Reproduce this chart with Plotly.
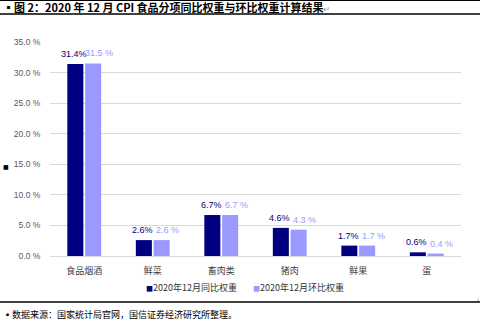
import plotly.graph_objects as go

categories = ["食品烟酒", "鲜菜", "畜肉类", "猪肉", "鲜果", "蛋"]
yoy_weight = [31.4, 2.6, 6.7, 4.6, 1.7, 0.6]
mom_weight = [31.5, 2.6, 6.7, 4.3, 1.7, 0.4]
series_names = ["2020年12月同比权重", "2020年12月环比权重"]
title_text = "▪图 2：2020 年 12 月 CPI 食品分项同比权重与环比权重计算结果"
source_text = "▪数据来源：国家统计局官网，国信证券经济研究所整理。"

W, H = 484, 327
L, R, T, B = 50, 23, 42, 71
pw, ph = W - L - R, H - T - B

def px(x):
    return (x - L) / pw

def py(y):
    return (H - B - y) / ph

font_cjk = "Noto Sans CJK SC, DejaVu Sans, sans-serif"
font_num = "Liberation Sans, Arial, sans-serif"
dark = "#000080"
light = "#9999FF"

fig = go.Figure()
fig.add_trace(go.Bar(
    x=categories, y=yoy_weight, name=series_names[0],
    marker=dict(color=dark, line=dict(width=0)), showlegend=False,
))
fig.add_trace(go.Bar(
    x=categories, y=mom_weight, name=series_names[1],
    marker=dict(color=light, line=dict(width=0)), showlegend=False,
))

annotations = []
for c, v in zip(categories, yoy_weight):
    annotations.append(dict(x=c, y=v, xref="x", yref="y", text=f"{v:.1f}%", showarrow=False,
                            xshift=-10, yshift=10, yanchor="middle", xanchor="center",
                            font=dict(size=9, family=font_num, color=dark)))
for c, v in zip(categories, mom_weight):
    annotations.append(dict(x=c, y=v, xref="x", yref="y", text=f"{v:.1f} %", showarrow=False,
                            xshift=15, yshift=10, yanchor="middle", xanchor="center",
                            font=dict(size=9, family=font_num, color=light)))

annotations += [
    dict(text="<b>" + title_text + "</b><span style='font-size:8px;color:#999'>↵</span>",
         xref="paper", yref="paper", x=px(1), y=py(7.5), xanchor="left", yanchor="middle",
         showarrow=False, font=dict(size=11, family=font_cjk, color="black")),
    dict(text=source_text, xref="paper", yref="paper", x=px(1), y=py(314),
         xanchor="left", yanchor="middle", showarrow=False,
         font=dict(size=9, family=font_cjk, color="black")),
    dict(text="■", xref="paper", yref="paper", x=px(6), y=py(166),
         xanchor="center", yanchor="middle", showarrow=False,
         font=dict(size=6, family="DejaVu Sans", color="black")),
    dict(text=f"<span style='color:{dark};font-size:7px'>■</span>" + series_names[0],
         xref="paper", yref="paper", x=px(144), y=py(287), xanchor="left", yanchor="middle",
         showarrow=False, font=dict(size=9, family=font_cjk, color="#333333")),
    dict(text=f"<span style='color:{light};font-size:7px'>■</span>" + series_names[1],
         xref="paper", yref="paper", x=px(251), y=py(287), xanchor="left", yanchor="middle",
         showarrow=False, font=dict(size=9, family=font_cjk, color="#333333")),
    dict(text="↓", xref="paper", yref="paper", x=px(478), y=py(299), xanchor="center", yanchor="middle",
         showarrow=False, font=dict(size=5, family="DejaVu Sans", color="#999999")),
]

fig.update_layout(
    width=W, height=H,
    margin=dict(l=L, r=R, t=T, b=B, pad=0),
    paper_bgcolor="white", plot_bgcolor="white",
    barmode="group", bargap=0.48, bargroupgap=0.1,
    showlegend=False,
    font=dict(family=font_cjk),
    xaxis=dict(showgrid=False, showline=False, ticks="outside", ticklen=6, tickcolor="rgba(0,0,0,0)",
               tickfont=dict(size=9, family=font_cjk, color="#404040")),
    yaxis=dict(range=[0, 35], dtick=5, tickformat=".1f", ticksuffix=" %",
               showgrid=True, gridcolor="#D9D9D9", gridwidth=1,
               zeroline=True, zerolinecolor="#D9D9D9", zerolinewidth=1,
               showline=False, ticks="outside", ticklen=7, tickcolor="rgba(0,0,0,0)",
               tickfont=dict(size=8.5, family=font_num, color="#595959")),
    shapes=[
        dict(type="line", xref="paper", yref="paper", x0=px(0), x1=px(480), y0=py(0.5), y1=py(0.5),
             line=dict(color="black", width=1)),
        dict(type="line", xref="paper", yref="paper", x0=px(0), x1=px(480), y0=py(14), y1=py(14),
             line=dict(color="black", width=1.5)),
        dict(type="line", xref="paper", yref="paper", x0=px(0), x1=px(480), y0=py(302), y1=py(302),
             line=dict(color="black", width=1.5)),
    ],
    annotations=annotations,
)

fig.write_html("out.html")
